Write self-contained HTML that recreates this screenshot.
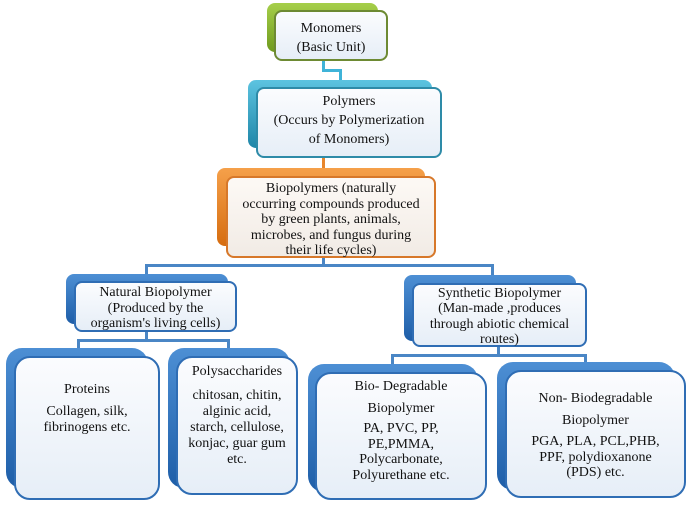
<!DOCTYPE html>
<html><head><meta charset="utf-8"><style>
body{margin:0;width:690px;height:508px;background:#fff;position:relative;overflow:hidden;font-family:"Liberation Serif",serif;color:#111}
.b{position:absolute;border-radius:8px}
.f{position:absolute;border-radius:8px;background:linear-gradient(#fbfcfe,#e6eef7);box-sizing:border-box;text-align:center;font-size:14px;line-height:16px}
.l{position:absolute;background:#4a86c5}
.g .f{border:2px solid #6d8a33}
.t{border:2px solid #2e8ba8}
</style></head><body>
<!-- connectors -->
<div class="l" style="left:322px;top:61px;width:3px;height:10px;background:#3fb3d8"></div>
<div class="l" style="left:322px;top:69px;width:20px;height:3px;background:#3fb3d8"></div>
<div class="l" style="left:339px;top:69px;width:3px;height:12px;background:#3fb3d8"></div>
<div class="l" style="left:322px;top:158px;width:3px;height:10px;background:#e8862c"></div>
<div class="l" style="left:322px;top:258px;width:3px;height:8px"></div>
<div class="l" style="left:145px;top:264px;width:349px;height:3px"></div>
<div class="l" style="left:145px;top:264px;width:3px;height:12px"></div>
<div class="l" style="left:491px;top:264px;width:3px;height:12px"></div>
<div class="l" style="left:145px;top:331px;width:3px;height:10px"></div>
<div class="l" style="left:77px;top:339px;width:153px;height:3px"></div>
<div class="l" style="left:77px;top:339px;width:3px;height:12px"></div>
<div class="l" style="left:227px;top:339px;width:3px;height:12px"></div>
<div class="l" style="left:497px;top:347px;width:3px;height:8px"></div>
<div class="l" style="left:391px;top:354px;width:196px;height:3px"></div>
<div class="l" style="left:391px;top:354px;width:3px;height:12px"></div>
<div class="l" style="left:584px;top:354px;width:3px;height:12px"></div>

<!-- Monomers -->
<div class="b" style="left:267px;top:3px;width:111px;height:49px;background:linear-gradient(#a6cf4a,#6f9a1e)"></div>
<div class="f" style="left:274px;top:10px;width:114px;height:51px;border:2px solid #6d8a33;padding-top:7px;line-height:19px;font-size:14px">Monomers<br>(Basic Unit)</div>
<!-- Polymers -->
<div class="b" style="left:248px;top:80px;width:184px;height:68px;background:linear-gradient(#5cc3e0,#1f86a8)"></div>
<div class="f" style="left:256px;top:87px;width:186px;height:71px;border:2px solid #2e8ba8;padding-top:5px">Polymers<br><span style="line-height:22px">(Occurs by Polymerization</span><br>of Monomers)</div>
<!-- Biopolymers -->
<div class="b" style="left:217px;top:168px;width:208px;height:78px;background:linear-gradient(#f5a04a,#d66d10)"></div>
<div class="f" style="left:226px;top:176px;width:210px;height:82px;border:2px solid #d7782a;padding-top:3px;background:linear-gradient(#fdf9f5,#f1ebe5);line-height:15.6px">Biopolymers (naturally<br>occurring compounds produced<br>by green plants, animals,<br>microbes, and fungus during<br>their life cycles)</div>
<!-- Natural -->
<div class="b" style="left:66px;top:274px;width:162px;height:50px;background:linear-gradient(#4d8fd4,#1e5ea8)"></div>
<div class="f" style="left:74px;top:281px;width:163px;height:51px;border:2px solid #2f6db4;padding-top:2px;line-height:15.5px">Natural Biopolymer<br>(Produced by the<br>organism's living cells)</div>
<!-- Synthetic -->
<div class="b" style="left:404px;top:275px;width:172px;height:66px;background:linear-gradient(#4d8fd4,#1e5ea8)"></div>
<div class="f" style="left:412px;top:283px;width:175px;height:64px;border:2px solid #2f6db4;padding-top:1px;line-height:15.3px">Synthetic Biopolymer<br>(Man-made ,produces<br>through abiotic chemical<br>routes)</div>
<!-- Proteins -->
<div class="b" style="left:6px;top:348px;width:142px;height:140px;border-radius:16px;background:linear-gradient(#4d8fd4,#1e5ea8)"></div>
<div class="f" style="left:14px;top:356px;width:146px;height:144px;border-radius:16px;border:2px solid #2f6db4;padding-top:24px">Proteins<br><span style="display:inline-block;margin-top:6px">Collagen, silk,<br>fibrinogens etc.</span></div>
<!-- Polysaccharides -->
<div class="b" style="left:168px;top:348px;width:122px;height:140px;border-radius:16px;background:linear-gradient(#4d8fd4,#1e5ea8)"></div>
<div class="f" style="left:176px;top:356px;width:122px;height:139px;border-radius:16px;border:2px solid #2f6db4;padding-top:6px">Polysaccharides<br><span style="display:inline-block;margin-top:8px">chitosan, chitin,<br>alginic acid,<br>starch, cellulose,<br>konjac, guar gum<br>etc.</span></div>
<!-- Bio-degradable -->
<div class="b" style="left:308px;top:364px;width:170px;height:128px;border-radius:16px;background:linear-gradient(#4d8fd4,#1e5ea8)"></div>
<div class="f" style="left:315px;top:372px;width:172px;height:128px;border-radius:16px;border:2px solid #2f6db4;padding-top:2px;line-height:22px">Bio- Degradable<br>Biopolymer<br><span style="display:inline-block;line-height:15.7px;margin-top:1px">PA, PVC, PP,<br>PE,PMMA,<br>Polycarbonate,<br>Polyurethane etc.</span></div>
<!-- Non-bio -->
<div class="b" style="left:497px;top:362px;width:178px;height:128px;border-radius:16px;background:linear-gradient(#4d8fd4,#1e5ea8)"></div>
<div class="f" style="left:505px;top:370px;width:181px;height:128px;border-radius:16px;border:2px solid #2f6db4;padding-top:16px;line-height:22px">Non- Biodegradable<br>Biopolymer<br><span style="display:inline-block;line-height:15.7px;margin-top:2px">PGA, PLA, PCL,PHB,<br>PPF, polydioxanone<br>(PDS) etc.</span></div>
</body></html>
